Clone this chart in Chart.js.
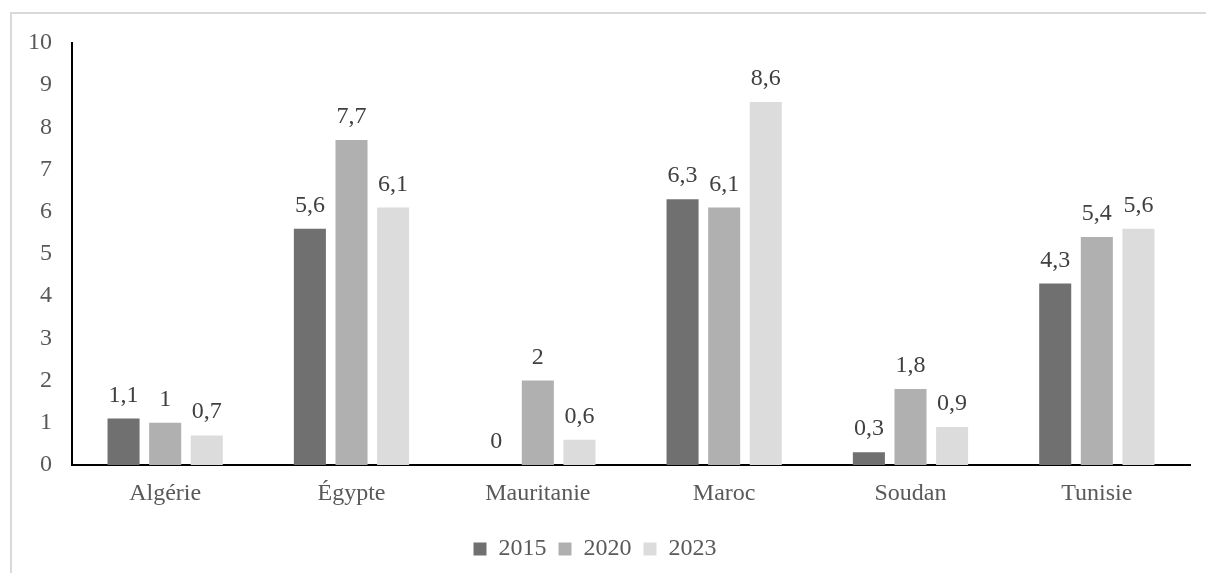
<!DOCTYPE html>
<html>
<head>
<meta charset="utf-8">
<script src="https://cdn.jsdelivr.net/npm/chart.js@4/dist/chart.umd.min.js"></script>
<style>
  html, body { margin: 0; padding: 0; background: #fff; }
  #frame { position: absolute; left: 10px; top: 12px; width: 1220px; height: 600px; border: 2px solid #d9d9d9; box-sizing: border-box; }
  #wrap { position: absolute; left: 0; top: 0; width: 1206px; height: 573px; }
</style>
</head>
<body>
<div id="frame"></div>
<div id="wrap"><canvas id="chart"></canvas></div>
<script>
// categories and series
const countries = ['Algérie', 'Égypte', 'Mauritanie', 'Maroc', 'Soudan', 'Tunisie'];
const years = ['2015', '2020', '2023'];
const v2015 = [1.1, 5.6, 0, 6.3, 0.3, 4.3];
const v2020 = [1, 7.7, 2, 6.1, 1.8, 5.4];
const v2023 = [0.7, 6.1, 0.6, 8.6, 0.9, 5.6];
const yTicks = [0, 1, 2, 3, 4, 5, 6, 7, 8, 9, 10];

const colors = ['#707070', '#b0b0b0', '#dcdcdc'];
const FONT = '"Liberation Serif", "Times New Roman", serif';

// simple value labels above each bar (comma as decimal separator)
const valueLabels = {
  id: 'valueLabels',
  afterDatasetsDraw(chart) {
    const ctx = chart.ctx;
    ctx.save();
    ctx.font = '24px ' + FONT;
    ctx.fillStyle = '#404040';
    ctx.textAlign = 'center';
    ctx.textBaseline = 'alphabetic';
    chart.data.datasets.forEach((ds, i) => {
      chart.getDatasetMeta(i).data.forEach((bar, j) => {
        const txt = String(ds.data[j]).replace('.', ',');
        ctx.fillText(txt, bar.x, bar.y - 17);
      });
    });
    ctx.restore();
  }
};

new Chart(document.getElementById('chart'), {
  type: 'bar',
  data: {
    labels: countries,
    datasets: [
      { label: years[0], data: v2015, backgroundColor: colors[0] },
      { label: years[1], data: v2020, backgroundColor: colors[1] },
      { label: years[2], data: v2023, backgroundColor: colors[2] }
    ]
  },
  options: {
    responsive: true, maintainAspectRatio: false, animation: false,
    categoryPercentage: 0.67, barPercentage: 0.77,
    layout: { padding: { top: 43, right: 16, left: 0, bottom: 2 } },
    plugins: {
      legend: {
        position: 'bottom',
        labels: { color: '#595959', font: { family: FONT, size: 24 }, boxWidth: 13, boxHeight: 13, padding: 12, useBorderRadius: false }
      },
      tooltip: { enabled: false }
    },
    scales: {
      x: {
        grid: { display: false, drawTicks: false },
        border: { color: '#000', width: 2 },
        ticks: { color: '#595959', font: { family: FONT, size: 24 }, padding: 14 },
        afterFit(s) { s.height = 60; }
      },
      y: {
        min: 0, max: 10,
        afterBuildTicks(s) { s.ticks = yTicks.map(v => ({ value: v })); },
        grid: { display: false, drawTicks: false },
        border: { color: '#000', width: 2 },
        ticks: { color: '#595959', font: { family: FONT, size: 24 }, padding: 20 },
        afterFit(s) { s.width = 72; }
      }
    }
  },
  plugins: [valueLabels]
});
</script>
</body>
</html>
